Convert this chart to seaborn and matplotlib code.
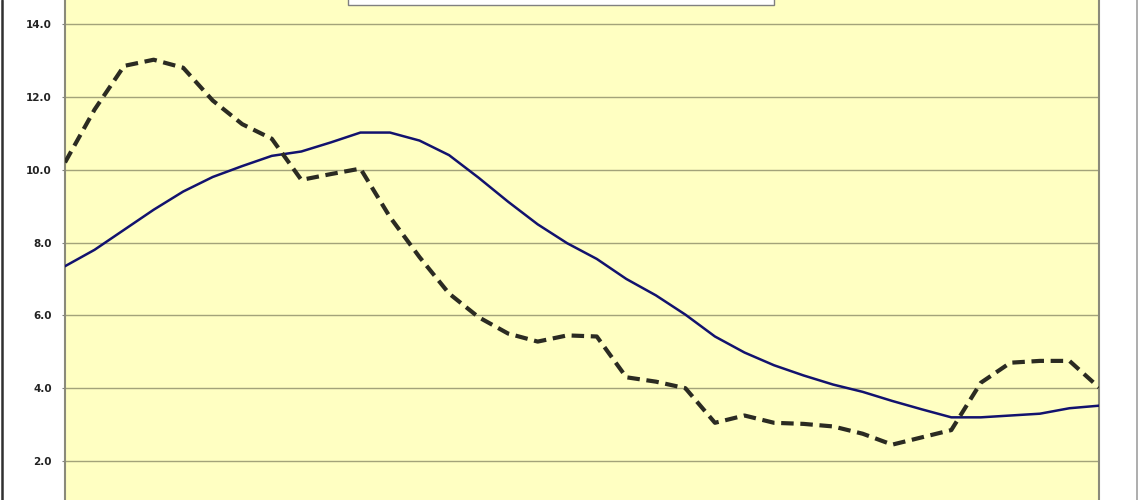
import numpy as np
import pandas as pd
import matplotlib
matplotlib.use("Agg")
import matplotlib.pyplot as plt
import seaborn as sns
from matplotlib.lines import Line2D
from matplotlib.patches import Rectangle

# valores (36 periodos)
periodos = list(range(36))

serie_solida = [7.35, 7.8, 8.35, 8.9, 9.4, 9.8, 10.1, 10.38, 10.5, 10.75,
                11.02, 11.02, 10.8, 10.4, 9.78, 9.12, 8.5, 7.98, 7.55, 7.0,
                6.55, 6.02, 5.42, 4.98, 4.63, 4.35, 4.1, 3.9, 3.65, 3.42,
                3.2, 3.2, 3.25, 3.3, 3.45, 3.52]

serie_tracejada = [10.2, 11.65, 12.85, 13.02, 12.8, 11.9, 11.25, 10.85, 9.72, 9.88,
                   10.03, 8.7, 7.6, 6.6, 5.95, 5.5, 5.28, 5.45, 5.42, 4.3,
                   4.18, 4.0, 3.05, 3.25, 3.05, 3.02, 2.95, 2.75, 2.45, 2.65,
                   2.85, 4.15, 4.7, 4.75, 4.75, 4.02]

yticks = [2.0, 4.0, 6.0, 8.0, 10.0, 12.0, 14.0]

df = pd.DataFrame({
    'periodo': periodos * 2,
    'valor': serie_solida + serie_tracejada,
    'serie': ['solida'] * 36 + ['tracejada'] * 36,
})

sns.set_style("white")

fig = plt.figure(figsize=(11.4, 5), dpi=100)
ax = fig.add_axes([65 / 1140, 0, (1099 - 65) / 1140, 1])
ax.set_facecolor('#FFFFC2')

# linhas de grade
for t in yticks:
    ax.axhline(t, color='#a3a37a', linewidth=1.0, zorder=1)

sns.lineplot(data=df[df.serie == 'solida'], x='periodo', y='valor',
             color='#12126e', linewidth=1.8, ax=ax, zorder=3)
sns.lineplot(data=df[df.serie == 'tracejada'], x='periodo', y='valor',
             color='#2b2b22', linewidth=3.0, dashes=False, ax=ax, zorder=3)
ax.lines[-1].set_dashes((3, 1.6))

ax.set_xlim(0, 35)
ax.set_ylim(0.93, 14.66)
ax.set_yticks(yticks)
ax.set_yticklabels([f"{t:.1f}" for t in yticks], fontsize=7.5,
                   fontweight='bold', color='#222222')
ax.set_xticks([])
ax.set_xlabel('')
ax.set_ylabel('')
ax.tick_params(axis='y', which='both', left=True, length=2.5, width=0.8,
               color='#808080', pad=7)

for side in ['top', 'bottom']:
    ax.spines[side].set_visible(False)
for side in ['left', 'right']:
    ax.spines[side].set_visible(True)
    ax.spines[side].set_color('#8a8a7a')
    ax.spines[side].set_linewidth(1.5)

# caixa da legenda (cortada no topo)
ax.add_patch(Rectangle(((348 - 65) / 1034, 495 / 500), (774 - 348) / 1034, 0.05,
                       transform=ax.transAxes, facecolor='white',
                       edgecolor='#808080', linewidth=1.0, zorder=5,
                       clip_on=False))

# moldura externa
fig.add_artist(Line2D([1.5 / 1140, 1.5 / 1140], [0, 1], color='#303030', linewidth=1.8))
fig.add_artist(Line2D([1137 / 1140, 1137 / 1140], [0, 1], color='#a0a0a0', linewidth=1.2))

fig.savefig('out.png', dpi=100)
